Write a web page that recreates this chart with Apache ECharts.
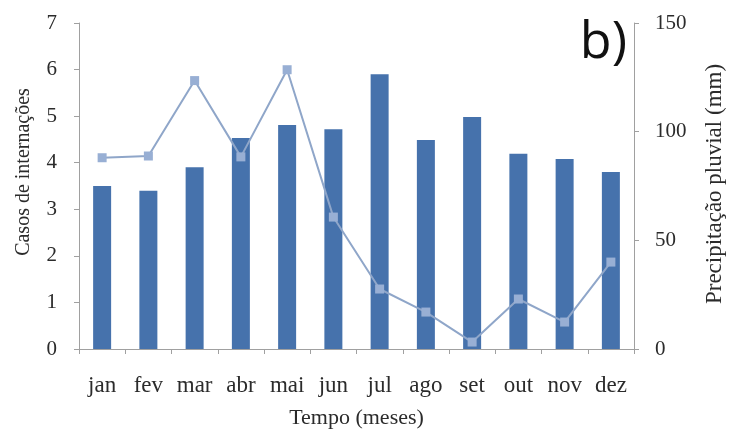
<!DOCTYPE html>
<html>
<head>
<meta charset="utf-8">
<script src="https://cdn.jsdelivr.net/npm/echarts@6/dist/echarts.min.js"></script>
<style>
  html, body { margin: 0; padding: 0; background: #ffffff; }
  #chart { width: 731px; height: 434px; }
</style>
</head>
<body>
<div id="chart"></div>
<script>
// Monthly hospitalisation cases (bars, left axis) and rainfall (line, right axis)
const months = ['jan', 'fev', 'mar', 'abr', 'mai', 'jun', 'jul', 'ago', 'set', 'out', 'nov', 'dez'];
const casos = [3.5, 3.4, 3.9, 4.53, 4.81, 4.72, 5.9, 4.49, 4.98, 4.19, 4.08, 3.8];
const precipitacao = [88, 88.8, 123.5, 88.4, 128.5, 60.7, 27.6, 17, 3.2, 23, 12.4, 40];
const leftTicks = [0, 7, 1];     // min, max, interval
const rightTicks = [0, 150, 50]; // min, max, interval

const serif = '"Liberation Serif", "DejaVu Serif", serif';
const axisGrey = '#a0a0a0';
const textColor = '#2b2b2b';

const chart = echarts.init(document.getElementById('chart'));
chart.setOption({
  animation: false,
  backgroundColor: '#ffffff',
  grid: { left: 79, right: 97, top: 23, bottom: 85 },
  title: {
    text: 'b)',
    right: 99,
    top: 12,
    textStyle: { fontFamily: '"Open Sans", "Liberation Sans", sans-serif', fontSize: 52, fontWeight: 'normal', color: '#111' }
  },
  // Rotated y-axis titles, placed beside each axis
  graphic: [
    {
      type: 'text',
      x: 24, y: 172, rotation: Math.PI / 2,
      style: {
        text: 'Casos de internações',
        font: '20px ' + serif,
        fill: textColor,
        align: 'center',
        verticalAlign: 'middle'
      }
    },
    {
      type: 'text',
      x: 715, y: 184, rotation: Math.PI / 2,
      style: {
        text: 'Precipitação pluvial (mm)',
        font: '23px ' + serif,
        fill: textColor,
        align: 'center',
        verticalAlign: 'middle'
      }
    }
  ],
  xAxis: {
    type: 'category',
    data: months,
    boundaryGap: true,
    name: 'Tempo (meses)',
    nameLocation: 'middle',
    nameGap: 58,
    nameTextStyle: { fontFamily: serif, fontSize: 22, color: textColor },
    axisLine: { lineStyle: { color: axisGrey, width: 1 } },
    axisTick: { show: true, length: 5, lineStyle: { color: axisGrey } },
    axisLabel: { fontFamily: serif, fontSize: 23, color: textColor, margin: 25, interval: 0 }
  },
  yAxis: [
    {
      type: 'value',
      min: leftTicks[0], max: leftTicks[1], interval: leftTicks[2],
      axisLine: { show: true, lineStyle: { color: axisGrey } },
      axisTick: { show: true, length: 5, lineStyle: { color: axisGrey } },
      axisLabel: { fontFamily: serif, fontSize: 21, color: textColor, margin: 22 },
      splitLine: { show: false }
    },
    {
      type: 'value',
      position: 'right',
      min: rightTicks[0], max: rightTicks[1], interval: rightTicks[2],
      axisLine: { show: true, lineStyle: { color: axisGrey } },
      axisTick: { show: true, length: 5, lineStyle: { color: axisGrey } },
      axisLabel: { fontFamily: serif, fontSize: 21, color: textColor, margin: 21 },
      splitLine: { show: false }
    }
  ],
  series: [
    {
      type: 'bar',
      yAxisIndex: 0,
      data: casos,
      barWidth: 18,
      itemStyle: { color: '#4672ac' }
    },
    {
      type: 'line',
      yAxisIndex: 1,
      data: precipitacao,
      symbol: 'rect',
      symbolSize: 9,
      lineStyle: { color: '#8fa6c9', width: 2 },
      itemStyle: { color: '#98afd4' },
      z: 5
    }
  ]
});
</script>
</body>
</html>
